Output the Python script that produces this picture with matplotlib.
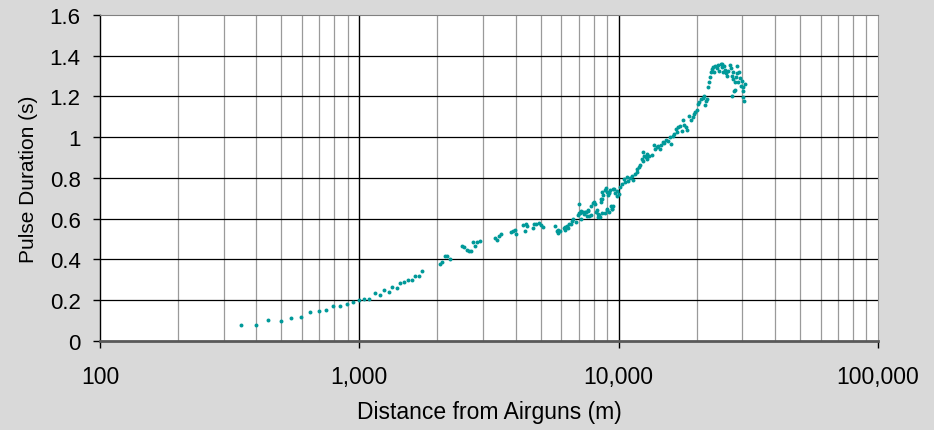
import matplotlib
matplotlib.use("Agg")
import matplotlib.pyplot as plt
from matplotlib.ticker import FixedLocator, FuncFormatter, NullFormatter

# DATA - pulse duration vs range
near_dist = [349, 400, 446, 498, 545, 596, 645, 697, 744, 794, 845, 894, 943, 997,
             1045, 1093, 1147, 1199, 1242, 1299, 1341, 1398, 1439, 1491, 1541, 1593,
             1640, 1695, 1741, 2042, 2090, 2135, 2185, 2238]
near_dur = [0.079, 0.080, 0.103, 0.097, 0.114, 0.116, 0.141, 0.149, 0.154, 0.173, 0.173,
            0.180, 0.190, 0.203, 0.205, 0.206, 0.234, 0.226, 0.249, 0.242, 0.267, 0.260,
            0.283, 0.291, 0.301, 0.301, 0.321, 0.318, 0.345, 0.376, 0.389, 0.416, 0.416,
            0.402]

mid_dist = [2483, 2534, 2596, 2642, 2689, 2737, 2794, 2852, 2921, 3337, 3406, 3467, 3529,
            3836, 3926, 4021, 3996, 4343, 4290, 4394, 4445, 4663, 4717, 4815, 4919, 5007,
            5124, 5671, 5772, 5839, 5855, 5943, 6158, 6214, 6230, 6307, 6397, 6455, 6553,
            6594, 6688, 6833, 6993, 7018, 7055, 7098, 7143, 7161, 7272, 7375, 7421, 7467,
            7534, 7621, 7642, 7700, 7806, 7827, 7946, 8060, 8088, 8182, 8232, 8306, 8356,
            8381, 8479, 8553, 8606, 8630, 8730, 8840, 8862, 8998, 8998, 9159, 9184, 9267,
            9324, 9405, 9432, 9541]
mid_dur = [0.468, 0.460, 0.448, 0.442, 0.442, 0.484, 0.468, 0.487, 0.491, 0.504, 0.497,
           0.517, 0.527, 0.533, 0.540, 0.527, 0.543, 0.538, 0.569, 0.576, 0.566, 0.556,
           0.573, 0.576, 0.579, 0.569, 0.558, 0.566, 0.541, 0.528, 0.543, 0.541, 0.553,
           0.560, 0.546, 0.563, 0.556, 0.574, 0.576, 0.590, 0.599, 0.584, 0.617, 0.672,
           0.628, 0.628, 0.640, 0.600, 0.635, 0.625, 0.632, 0.633, 0.612, 0.644, 0.638,
           0.612, 0.618, 0.661, 0.677, 0.682, 0.671, 0.632, 0.644, 0.609, 0.625, 0.618,
           0.607, 0.682, 0.698, 0.628, 0.715, 0.628, 0.740, 0.648, 0.641, 0.635, 0.726,
           0.743, 0.661, 0.649, 0.648, 0.748]

far_dist = [8531, 8606, 8942, 8998, 9127, 9210, 9491, 9601, 9686, 9833, 9886, 10063,
            10125, 10280, 10491, 10585, 10746, 10900, 11066, 11233, 11395, 11570, 11745,
            11808, 12019, 12094, 12456, 12837, 12281, 12391, 12531, 12756, 12903, 13134,
            13418, 13694, 13818, 14026, 14227, 14444, 14535, 14795, 14966, 15234, 15549,
            15784, 15883, 16167, 16357, 16650, 16843, 16991, 17252, 17512, 17670, 17875,
            18195, 18406, 18739, 18973, 19313, 19536, 19712, 20010, 20298, 20477, 20733,
            21104, 21348, 21731, 21541, 21987, 22180, 22379, 22518, 22659, 22863, 23186,
            23331, 23541, 23897, 24240, 24458, 24764, 24982, 24982, 25207, 25499, 25729,
            25955, 26256, 26493, 26892, 27060, 27304, 27304, 27542, 27695, 27861, 28112,
            28112, 28365, 28542, 28693, 28946, 29207, 29389, 29572, 29839, 30101, 30261,
            30261, 30450, 30725]
far_dur = [0.697, 0.730, 0.749, 0.733, 0.717, 0.730, 0.664, 0.746, 0.726, 0.738, 0.713,
           0.721, 0.754, 0.771, 0.795, 0.782, 0.803, 0.787, 0.799, 0.811, 0.792, 0.820,
           0.831, 0.844, 0.852, 0.864, 0.885, 0.893, 0.893, 0.929, 0.910, 0.901, 0.918,
           0.910, 0.913, 0.962, 0.942, 0.951, 0.956, 0.942, 0.962, 0.975, 0.972, 0.988,
           0.983, 1.000, 0.967, 1.005, 1.016, 1.040, 1.024, 1.049, 1.054, 1.032, 1.086,
           1.060, 1.049, 1.037, 1.106, 1.086, 1.098, 1.114, 1.125, 1.135, 1.163, 1.174,
           1.188, 1.191, 1.204, 1.179, 1.158, 1.188, 1.245, 1.270, 1.294, 1.319, 1.335,
           1.343, 1.319, 1.351, 1.338, 1.355, 1.327, 1.360, 1.343, 1.360, 1.322, 1.348,
           1.332, 1.315, 1.302, 1.327, 1.355, 1.338, 1.302, 1.204, 1.286, 1.319, 1.229,
           1.273, 1.232, 1.294, 1.315, 1.348, 1.270, 1.322, 1.289, 1.253, 1.278, 1.245,
           1.229, 1.196, 1.179, 1.261]

distance = near_dist + mid_dist + far_dist
duration = near_dur + mid_dur + far_dur

y_ticks = [0, 0.2, 0.4, 0.6, 0.8, 1.0, 1.2, 1.4, 1.6]
x_major = [100, 1000, 10000, 100000]

# STYLE
BG = '#d9d9d9'
TEAL = '#009999'
plt.rcParams['font.family'] = ['Liberation Sans', 'DejaVu Sans']

fig = plt.figure(figsize=(9.34, 4.31), dpi=100)
fig.patch.set_facecolor(BG)
ax = fig.add_axes([0.1071, 0.2065, 0.8330, 0.7564])
ax.set_facecolor('white')

ax.scatter(distance, duration, s=8, color=TEAL, linewidths=0, zorder=3)

ax.set_xscale('log')
ax.set_xlim(100, 100000)
ax.set_ylim(0, 1.6)

# gridlines: minor verticals grey, majors black
x_minor = [m * d for d in (100, 1000, 10000) for m in range(2, 10)]
for xv in x_minor:
    ax.axvline(xv, color='#9a9a9a', lw=0.9, zorder=1)
for xv in x_major[1:-1]:
    ax.axvline(xv, color='black', lw=1.0, zorder=2)
for yv in y_ticks[1:-1]:
    ax.axhline(yv, color='black', lw=0.9, zorder=1)

ax.xaxis.set_major_locator(FixedLocator(x_major))
ax.xaxis.set_minor_locator(FixedLocator(x_minor))
ax.xaxis.set_minor_formatter(NullFormatter())
ax.xaxis.set_major_formatter(FuncFormatter(lambda v, p: f'{v:,.0f}'))
ax.set_yticks(y_ticks)
ax.yaxis.set_major_formatter(FuncFormatter(lambda v, p: f'{v:g}'))

ax.tick_params(axis='x', which='major', direction='out', length=5, width=1,
               color='black', labelsize=16.5, pad=12)
ax.tick_params(axis='x', which='minor', length=0)
ax.tick_params(axis='y', direction='out', length=5, width=1, color='black',
               labelsize=16, pad=9)

ax.spines['left'].set_color('black')
ax.spines['left'].set_linewidth(1)
ax.spines['bottom'].set_color('#595959')
ax.spines['bottom'].set_linewidth(2)
ax.spines['top'].set_color('#808080')
ax.spines['right'].set_color('#9a9a9a')

ax.set_xlabel('Distance from Airguns (m)', fontsize=16.5, labelpad=9)
ax.set_ylabel('Pulse Duration (s)', fontsize=15, labelpad=8)

plt.savefig('out.png', dpi=100, facecolor=BG)
